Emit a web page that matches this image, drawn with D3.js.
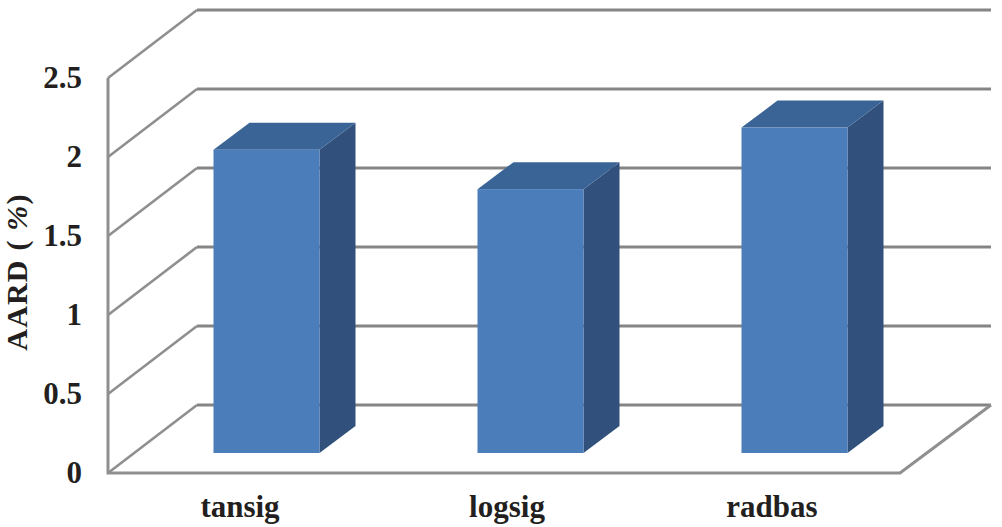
<!DOCTYPE html>
<html><head><meta charset="utf-8"><script src="https://cdn.jsdelivr.net/npm/d3@7/dist/d3.min.js"></script>
<style>html,body{margin:0;padding:0;background:#fff}svg{display:block}text{font-family:"Liberation Serif",serif;font-weight:bold;fill:#231f20}</style></head><body>
<script>
const categories=["tansig","logsig","radbas"];
const values=[1.92,1.67,2.06];
const yTicks=[0,0.5,1,1.5,2,2.5];
const W=1002,H=527;
const svg=d3.select("body").append("svg").attr("width",W).attr("height",H);
const y=d3.scaleLinear().domain([0,2.5]).range([473,78]);
const x=d3.scaleBand().domain(categories).range([108,900]);
const dx=89,dy=-68,backRight=991;
const grid="#8f8f8f",back="#858585";
const g=svg.append("g").attr("fill","none");
yTicks.forEach(t=>{
 g.append("path").attr("d",`M108,${y(t)}L${108+dx},${y(t)+dy}`).attr("stroke",grid).attr("stroke-width",2.6);
 g.append("path").attr("d",`M${108+dx},${y(t)+dy}L${backRight},${y(t)+dy}`).attr("stroke",back).attr("stroke-width",3);
});
g.append("path").attr("d",`M108,${y(2.5)}L108,${y(0)}L900,${y(0)}L${backRight},${y(0)+dy}`).attr("stroke",grid).attr("stroke-width",3);
const depthX=36,depthY=-27,baseShift=-20,barShift=26.5,bw=106;
const xc=c=>x(c)+x.bandwidth()/2;
const bars=svg.append("g").selectAll("g").data(categories).join("g");
bars.each(function(c,i){
 const s=d3.select(this);
 const x0=xc(c)-bw/2+barShift,x1=x0+bw,b=y(0)+baseShift,t=y(values[i])+baseShift;
 s.append("path").attr("d",`M${x1},${b}L${x1+depthX},${b+depthY}L${x1+depthX},${t+depthY}L${x1},${t}Z`).attr("fill","#31517c");
 s.append("path").attr("d",`M${x0},${t}L${x0+depthX},${t+depthY}L${x1+depthX},${t+depthY}L${x1},${t}Z`).attr("fill","#3a6495");
 s.append("rect").attr("x",x0).attr("y",t).attr("width",bw).attr("height",b-t).attr("fill","#4b7dbb");
});
svg.append("g").selectAll("text").data(yTicks).join("text")
 .attr("x",82).attr("y",t=>y(t)+10).attr("text-anchor","end").attr("font-size",31).text(d=>d);
const labelShift=[0,3,4];
svg.append("g").selectAll("text").data(categories).join("text")
 .attr("x",(c,i)=>xc(c)+labelShift[i]).attr("y",517).attr("text-anchor","middle").attr("font-size",31).text(d=>d);
const yl=svg.append("text").attr("transform","translate(27,272) rotate(-90)").attr("text-anchor","middle").attr("font-size",30).attr("letter-spacing",1.2).attr("xml:space","preserve");
yl.append("tspan").text("AARD ( ");
yl.append("tspan").attr("font-style","italic").text("%");
yl.append("tspan").text(")");
</script></body></html>
